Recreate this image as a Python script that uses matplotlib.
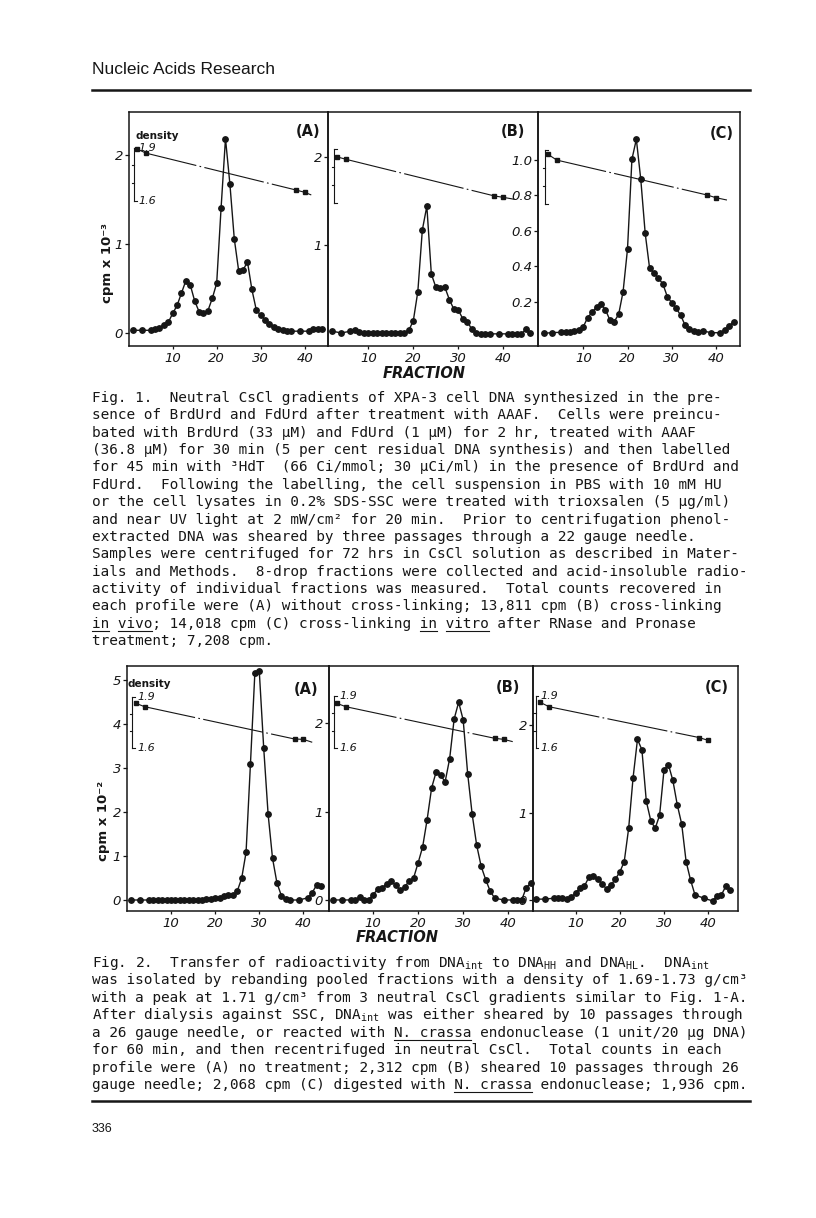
import matplotlib
matplotlib.use("Agg")
import matplotlib.pyplot as plt
from matplotlib.lines import Line2D

W, H, DPI = 816, 1218, 100
INK = "#161616"

plt.rcParams["mathtext.fontset"] = "custom"
plt.rcParams["mathtext.rm"] = "DejaVu Sans Mono"
plt.rcParams["mathtext.it"] = "DejaVu Sans Mono:italic"
plt.rcParams["mathtext.bf"] = "DejaVu Sans Mono:bold"

# ---- Fig. 1: cpm x 10^-3 per fraction (panel C on the 0.2-1.0 scale) ----
f1a_frac = [1, 3, 5, 6, 7, 8, 9, 10, 11, 12, 13, 14, 15, 16, 17, 18, 19, 20, 21, 22,
            23, 24, 25, 26, 27, 28, 29, 30, 31, 32, 33, 34, 35, 36, 37, 39, 41, 42, 43, 44]
f1a_cpm = [0.03, 0.03, 0.03, 0.05, 0.06, 0.09, 0.12, 0.22, 0.31, 0.45, 0.59, 0.54, 0.36, 0.24,
           0.22, 0.25, 0.39, 0.56, 1.41, 2.19, 1.68, 1.06, 0.70, 0.71, 0.80, 0.49, 0.26, 0.20,
           0.15, 0.10, 0.07, 0.05, 0.03, 0.02, 0.02, 0.02, 0.02, 0.04, 0.04, 0.05]

f1b_frac = [2, 4, 6, 7, 8, 9, 10, 11, 12, 13, 14, 15, 16, 17, 18, 19, 20, 21, 22, 23,
            24, 25, 26, 27, 28, 29, 30, 31, 32, 33, 34, 35, 36, 37, 39, 41, 42, 43, 44, 45, 46]
f1b_cpm = [0.02, 0.0, 0.02, 0.03, 0.01, 0.0, 0.0, 0.0, 0.0, 0.0, 0.0, 0.0, 0.0, 0.0, 0.0,
           0.03, 0.14, 0.47, 1.17, 1.44, 0.67, 0.52, 0.51, 0.52, 0.38, 0.27, 0.26, 0.16, 0.13,
           0.04, 0.0, -0.01, -0.01, -0.01, -0.01, -0.01, -0.01, -0.01, -0.01, 0.04, 0.0]

f1c_frac = [1, 3, 5, 6, 7, 8, 9, 10, 11, 12, 13, 14, 15, 16, 17, 18, 19, 20, 21, 22,
            23, 24, 25, 26, 27, 28, 29, 30, 31, 32, 33, 34, 35, 36, 37, 39, 41, 42, 43, 44]
f1c_cpm = [0.02, 0.025, 0.026, 0.026, 0.026, 0.034, 0.04, 0.058, 0.11, 0.14, 0.17, 0.185,
           0.155, 0.096, 0.087, 0.128, 0.256, 0.497, 1.004, 1.117, 0.891, 0.586, 0.388, 0.36,
           0.331, 0.30, 0.228, 0.194, 0.162, 0.124, 0.068, 0.043, 0.036, 0.03, 0.034, 0.024,
           0.024, 0.04, 0.062, 0.087]

# density (g/cm3) markers; last entry of each is where the dash-dot line stops
f1a_dens_frac = [2, 4, 38, 40, 41.5]
f1a_dens = [1.891, 1.869, 1.662, 1.649, 1.634]
f1b_dens_frac = [3, 5, 38, 40, 42.5]
f1b_dens = [1.858, 1.844, 1.638, 1.630, 1.619]
f1c_dens_frac = [2, 4, 38, 40, 42.5]
f1c_dens = [1.876, 1.844, 1.650, 1.635, 1.622]

# ---- Fig. 2: cpm x 10^-2 per fraction ----
f2a_frac = [1, 3, 5, 6, 7, 8, 9, 10, 11, 12, 13, 14, 15, 16, 17, 18, 19, 20, 21, 22,
            23, 24, 25, 26, 27, 28, 29, 30, 31, 32, 33, 34, 35, 36, 37, 39, 41, 42, 43, 44]
f2a_cpm = [0, 0, 0, 0, 0, 0, 0, 0, 0, 0, 0, 0, 0.01, 0.01, 0.01, 0.02, 0.02, 0.04, 0.05, 0.08,
           0.11, 0.11, 0.20, 0.49, 1.08, 3.10, 5.17, 5.20, 3.46, 1.95, 0.95, 0.39, 0.10, 0.02,
           0.0, 0.0, 0.05, 0.17, 0.34, 0.31]

f2b_frac = [1, 3, 5, 6, 7, 8, 9, 10, 11, 12, 13, 14, 15, 16, 17, 18, 19, 20, 21, 22, 23,
            24, 25, 26, 27, 28, 29, 30, 31, 32, 33, 34, 35, 36, 37, 39, 41, 42, 43, 44, 45]
f2b_cpm = [0, 0, 0, 0, 0.03, 0, 0, 0.06, 0.12, 0.14, 0.18, 0.21, 0.17, 0.11, 0.15, 0.21, 0.25,
           0.42, 0.60, 0.91, 1.27, 1.45, 1.41, 1.34, 1.60, 2.05, 2.24, 2.04, 1.43, 0.97, 0.62,
           0.38, 0.23, 0.10, 0.02, 0, 0, 0, 0, 0.14, 0.19]

f2c_frac = [1, 3, 5, 6, 7, 8, 9, 10, 11, 12, 13, 14, 15, 16, 17, 18, 19, 20, 21, 22, 23,
            24, 25, 26, 27, 28, 29, 30, 31, 32, 33, 34, 35, 36, 37, 39, 41, 42, 43, 44, 45]
f2c_cpm = [0.01, 0.01, 0.02, 0.02, 0.02, 0.01, 0.03, 0.08, 0.14, 0.16, 0.26, 0.27, 0.24, 0.18,
           0.13, 0.17, 0.24, 0.32, 0.44, 0.82, 1.40, 1.84, 1.72, 1.13, 0.91, 0.82, 0.97, 1.49,
           1.55, 1.37, 1.09, 0.87, 0.44, 0.23, 0.06, 0.02, -0.01, 0.05, 0.06, 0.16, 0.11]

f2a_dens_frac = [2, 4, 38, 40, 42]
f2a_dens = [1.862, 1.842, 1.654, 1.652, 1.635]
f2b_dens_frac = [2, 4, 37, 39, 41]
f2b_dens = [1.856, 1.837, 1.657, 1.651, 1.638]
f2c_dens_frac = [2, 4, 38, 40, 40.5]
f2c_dens = [1.862, 1.837, 1.661, 1.645, 1.640]

x_ticks = [10, 20, 30, 40]
dens_scale = [1.6, 1.7, 1.8, 1.9]

fig1_caption = [
    "Fig. 1.  Neutral CsCl gradients of XPA-3 cell DNA synthesized in the pre-",
    "sence of BrdUrd and FdUrd after treatment with AAAF.  Cells were preincu-",
    "bated with BrdUrd (33 µM) and FdUrd (1 µM) for 2 hr, treated with AAAF",
    "(36.8 µM) for 30 min (5 per cent residual DNA synthesis) and then labelled",
    "for 45 min with ³HdT  (66 Ci/mmol; 30 µCi/ml) in the presence of BrdUrd and",
    "FdUrd.  Following the labelling, the cell suspension in PBS with 10 mM HU",
    "or the cell lysates in 0.2% SDS-SSC were treated with trioxsalen (5 µg/ml)",
    "and near UV light at 2 mW/cm² for 20 min.  Prior to centrifugation phenol-",
    "extracted DNA was sheared by three passages through a 22 gauge needle.",
    "Samples were centrifuged for 72 hrs in CsCl solution as described in Mater-",
    "ials and Methods.  8-drop fractions were collected and acid-insoluble radio-",
    "activity of individual fractions was measured.  Total counts recovered in",
    "each profile were (A) without cross-linking; 13,811 cpm (B) cross-linking",
    "in vivo; 14,018 cpm (C) cross-linking in vitro after RNase and Pronase",
    "treatment; 7,208 cpm.",
]
fig2_caption = [
    r"Fig. 2.  Transfer of radioactivity from DNA$_{\mathrm{int}}$ to DNA$_{\mathrm{HH}}$ and DNA$_{\mathrm{HL}}$.  DNA$_{\mathrm{int}}$",
    "was isolated by rebanding pooled fractions with a density of 1.69-1.73 g/cm³",
    "with a peak at 1.71 g/cm³ from 3 neutral CsCl gradients similar to Fig. 1-A.",
    r"After dialysis against SSC, DNA$_{\mathrm{int}}$ was either sheared by 10 passages through",
    "a 26 gauge needle, or reacted with N. crassa endonuclease (1 unit/20 µg DNA)",
    "for 60 min, and then recentrifuged in neutral CsCl.  Total counts in each",
    "profile were (A) no treatment; 2,312 cpm (B) sheared 10 passages through 26",
    "gauge needle; 2,068 cpm (C) digested with N. crassa endonuclease; 1,936 cpm.",
]

fig = plt.figure(figsize=(W / DPI, H / DPI), dpi=DPI)
fig.patch.set_facecolor("white")


def fx(x):
    return x / W


def fy(y):
    return 1 - y / H


def panel(box, xlim, ylim, yticks, ylabels, frac, cpm, dfrac, dens, brk_x, brk_px,
          tag, tag_px, scale_labels=False, dens_word=None):
    l, t, r, b = box
    ax = fig.add_axes([fx(l), fy(b), (r - l) / W, (b - t) / H])
    ax.patch.set_alpha(0)
    ax.plot(frac, cpm, "-o", color=INK, lw=1.0, ms=3.9, mfc=INK, mec=INK, clip_on=False)
    ax.set_xlim(xlim)
    ax.set_ylim(ylim)
    ax.set_xticks(x_ticks)
    ax.set_xticklabels([str(v) for v in x_ticks])
    ax.set_yticks(yticks)
    ax.set_yticklabels(ylabels)
    ax.tick_params(axis="x", direction="out", length=2, width=0.9, pad=2, colors=INK, labelsize=9.5)
    ax.tick_params(axis="y", direction="out", length=3, width=0.9, pad=1.2, colors=INK, labelsize=9.5)
    for lab in ax.get_xticklabels() + ax.get_yticklabels():
        lab.set_fontstyle("italic")
    for sp in ax.spines.values():
        sp.set_linewidth(1.1)
        sp.set_color(INK)

    # density on its own little scale
    dax = ax.twinx()
    y19, y16 = brk_px
    f19 = (b - y19) / (b - t)
    f16 = (b - y16) / (b - t)
    span = 0.3 / (f19 - f16)
    lo = 1.6 - f16 * span
    dax.set_ylim(lo, lo + span)
    dax.set_xlim(xlim)
    dax.axis("off")
    dax.plot(dfrac, dens, color=INK, lw=0.8, ls=(0, (55, 3, 1.5, 3)))
    dax.plot(dfrac[:-1], dens[:-1], "s", color=INK, ms=2.8)
    lo_d, hi_d = dens_scale[0], dens_scale[-1]
    dax.plot([brk_x, brk_x], [lo_d, hi_d], color=INK, lw=0.8)
    for d in (lo_d, hi_d):
        dax.plot([brk_x, brk_x + 0.6], [d, d], color=INK, lw=0.8)
    for d in dens_scale[1:-1]:
        dax.plot([brk_x - 0.5, brk_x], [d, d], color=INK, lw=0.8)
    if scale_labels:
        for d in (lo_d, hi_d):
            dax.annotate(f"{d:.1f}", (brk_x, d), xytext=(3.5, 0), textcoords="offset points",
                         ha="left", va="center", fontsize=8, fontstyle="italic", color=INK)
    if dens_word:
        fig.text(fx(dens_word[0]), fy(dens_word[1]), "density", fontsize=7.5,
                 fontweight="bold", ha="center", va="center", color=INK)
    fig.text(fx(tag_px[0]), fy(tag_px[1]), tag, fontsize=10.5, fontweight="bold",
             ha="center", va="center", color=INK)
    return ax


# ---- Fig. 1 ----
panel((129, 112, 328, 346), (0.07, 45.3), (-0.147, 2.49), [0, 1, 2], ["0", "1", "2"],
      f1a_frac, f1a_cpm, f1a_dens_frac, f1a_dens, 1.2, (147.7, 201),
      "(A)", (308, 132), scale_labels=True, dens_word=(157, 136))
panel((328, 112, 538, 346), (1.04, 47.7), (-0.148, 2.51), [1, 2], ["1", "2"],
      f1b_frac, f1b_cpm, f1b_dens_frac, f1b_dens, 2.4, (149.3, 202.7),
      "(B)", (513, 132))
panel((538, 112, 740, 346), (-0.25, 45.45), (-0.051, 1.271), [0.2, 0.4, 0.6, 0.8, 1.0],
      ["0.2", "0.4", "0.6", "0.8", "1.0"],
      f1c_frac, f1c_cpm, f1c_dens_frac, f1c_dens, 1.33, (150, 204),
      "(C)", (722, 133))
fig.text(fx(107), fy(263), "cpm x 10⁻³", rotation=90, fontsize=9.5, fontweight="bold",
         ha="center", va="center", color=INK)
fig.text(fx(424), fy(373), "FRACTION", fontsize=10.5, fontweight="bold", fontstyle="italic",
         ha="center", va="center", color=INK)

# ---- Fig. 2 ----
panel((127, 666, 329, 911), (0.02, 45.8), (-0.25, 5.32), [0, 1, 2, 3, 4, 5],
      ["0", "1", "2", "3", "4", "5"],
      f2a_frac, f2a_cpm, f2a_dens_frac, f2a_dens, 1.22, (696.7, 748.3),
      "(A)", (306, 690), scale_labels=True, dens_word=(149, 684))
panel((329, 666, 533, 911), (0.22, 45.5), (-0.125, 2.65), [0, 1, 2], ["0", "1", "2"],
      f2b_frac, f2b_cpm, f2b_dens_frac, f2b_dens, 1.4, (695.7, 748.3),
      "(B)", (508, 687), scale_labels=True)
panel((533, 666, 738, 911), (0.36, 46.74), (-0.126, 2.68), [0, 1, 2], ["0", "1", "2"],
      f2c_frac, f2c_cpm, f2c_dens_frac, f2c_dens, 0.93, (695.7, 748.3),
      "(C)", (717, 687), scale_labels=True)
fig.text(fx(103), fy(821), "cpm x 10⁻²", rotation=90, fontsize=9.5, fontweight="bold",
         ha="center", va="center", color=INK)
fig.text(fx(397), fy(937), "FRACTION", fontsize=10.5, fontweight="bold", fontstyle="italic",
         ha="center", va="center", color=INK)

# ---- page furniture ----
fig.text(fx(92), fy(74), "Nucleic Acids Research", fontsize=12.5,
         family="Liberation Sans", ha="left", va="baseline", color=INK)
fig.add_artist(Line2D([fx(92), fx(750)], [fy(90), fy(90)], color=INK, lw=1.8))
fig.add_artist(Line2D([fx(92), fx(750)], [fy(1101), fy(1101)], color=INK, lw=1.8))
fig.text(fx(92), fy(1132), "336", fontsize=9, family="Liberation Sans",
         ha="left", va="baseline", color=INK)

cap_kw = dict(family="DejaVu Sans Mono", fontsize=10.4, ha="left", va="baseline", color=INK)
cap1 = [fig.text(fx(92), fy(402 + 17.36 * i), s, **cap_kw) for i, s in enumerate(fig1_caption)]
cap2 = [fig.text(fx(92), fy(967 + 17.43 * i), s, **cap_kw) for i, s in enumerate(fig2_caption)]

# underlined words (typewriter style)
fig.canvas.draw()
renderer = fig.canvas.get_renderer()


def underline(t, word, base_px, start=0):
    s = t.get_text()
    bb = t.get_window_extent(renderer)
    cw = bb.width / len(s)
    i = s.index(word, start)
    x0 = bb.x0 + i * cw
    x1 = x0 + len(word) * cw
    y = fy(base_px + 3)
    fig.add_artist(Line2D([x0 / W, x1 / W], [y, y], color=INK, lw=0.8))


b14 = 402 + 17.36 * 13
underline(cap1[13], "in", b14)
underline(cap1[13], "vivo", b14)
k = cap1[13].get_text().index("in vitro")
underline(cap1[13], "in", b14, k)
underline(cap1[13], "vitro", b14)
underline(cap2[4], "N. crassa", 967 + 17.43 * 4)
underline(cap2[7], "N. crassa", 967 + 17.43 * 7)

fig.savefig("out.png", dpi=DPI)
